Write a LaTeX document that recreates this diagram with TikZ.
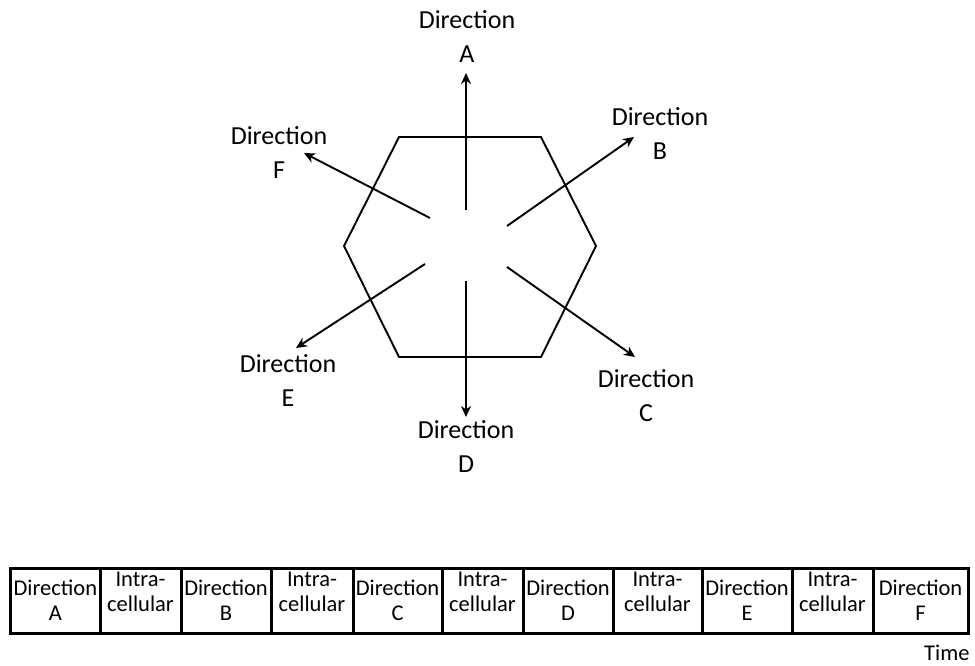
\documentclass[tikz,border=0pt]{standalone}
\usepackage{fontspec}
\setmainfont{Carlito}
\usetikzlibrary{arrows.meta}
\begin{document}
\begin{tikzpicture}[x=1pt,y=-1pt,
 hexline/.style={line width=1.9pt,line join=miter},
 arr/.style={line width=1.9pt,-{Stealth[length=11pt,width=10pt,inset=3.5pt]}},
 lab/.style={align=center,font=\fontsize{26}{34}\selectfont,inner sep=0pt},
 cell/.style={draw,line width=3pt,minimum height=65pt,anchor=north west,inner sep=0pt,outer sep=0pt},
 ctext/.style={align=center,font=\fontsize{22.5}{25}\selectfont,inner sep=0pt}]
\useasboundingbox (0,0) rectangle (975,666);
% hexagon
\coordinate (h1) at (399,137);
\coordinate (h2) at (541,137);
\coordinate (h3) at (596,246);
\coordinate (h4) at (541,357);
\coordinate (h5) at (399,357);
\coordinate (h6) at (344,246);
\draw[hexline] (h1) -- (h2) -- (h3) -- (h4) -- (h5) -- (h6) -- cycle;
% arrows
\coordinate (As) at (466,210); \coordinate (Ae) at (466,73);
\coordinate (Bs) at (507,226); \coordinate (Be) at (634,137);
\coordinate (Cs) at (507,267); \coordinate (Ce) at (635,357);
\coordinate (Ds) at (466,281); \coordinate (De) at (466,417);
\coordinate (Es) at (425,264); \coordinate (Ee) at (296,348);
\coordinate (Fs) at (430,218); \coordinate (Fe) at (304,153);
\draw[arr] (As) -- (Ae);
\draw[arr] (Bs) -- (Be);
\draw[arr] (Cs) -- (Ce);
\draw[arr] (Ds) -- (De);
\draw[arr] (Es) -- (Ee);
\draw[arr] (Fs) -- (Fe);
% labels
\node[lab] (LA) at (467,37) {Direction\\A};
\node[lab] (LB) at (660,134) {Direction\\B};
\node[lab] (LC) at (646,396) {Direction\\C};
\node[lab] (LD) at (466,446.5) {Direction\\D};
\node[lab] (LE) at (288,381) {Direction\\E};
\node[lab] (LF) at (279,153) {Direction\\F};
% table
\node[cell,minimum width=89.3pt] (c1) at (10.7,568) {};
\node[cell,minimum width=81pt] (c2) at (100,568) {};
\node[cell,minimum width=90pt] (c3) at (181,568) {};
\node[cell,minimum width=82pt] (c4) at (271,568) {};
\node[cell,minimum width=89pt] (c5) at (353,568) {};
\node[cell,minimum width=81pt] (c6) at (442,568) {};
\node[cell,minimum width=90pt] (c7) at (523,568) {};
\node[cell,minimum width=89pt] (c8) at (613,568) {};
\node[cell,minimum width=90pt] (c9) at (702,568) {};
\node[cell,minimum width=81pt] (c10) at (792,568) {};
\node[cell,minimum width=95pt] (c11) at (873,568) {};
\node[ctext] (t1) at (c1.center) {Direction\\A};
\node[ctext] (t2) at ([yshift=9pt]c2.center) {Intra-\\cellular};
\node[ctext] (t3) at (c3.center) {Direction\\B};
\node[ctext] (t4) at ([yshift=9pt]c4.center) {Intra-\\cellular};
\node[ctext] (t5) at (c5.center) {Direction\\C};
\node[ctext] (t6) at ([yshift=9pt]c6.center) {Intra-\\cellular};
\node[ctext] (t7) at (c7.center) {Direction\\D};
\node[ctext] (t8) at ([yshift=9pt]c8.center) {Intra-\\cellular};
\node[ctext] (t9) at (c9.center) {Direction\\E};
\node[ctext] (t10) at ([yshift=9pt]c10.center) {Intra-\\cellular};
\node[ctext] (t11) at (c11.center) {Direction\\F};
\node[ctext,anchor=west] (time) at (924,653) {Time};
\end{tikzpicture}
\end{document}
